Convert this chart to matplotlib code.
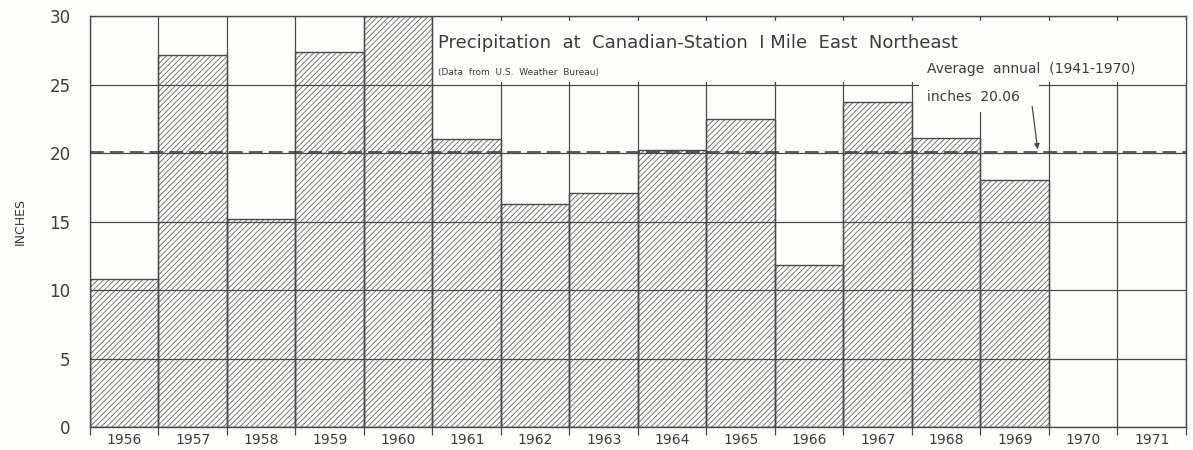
import matplotlib.pyplot as plt
from matplotlib.patches import Rectangle
from matplotlib.ticker import FixedLocator, NullFormatter

# Annual precipitation, inches (1970 and 1971 columns left empty)
years = ["1956", "1957", "1958", "1959", "1960", "1961", "1962", "1963",
         "1964", "1965", "1966", "1967", "1968", "1969", "1970", "1971"]
inches = [10.8, 27.15, 15.2, 27.4, 30.0, 21.0, 16.3, 17.1,
          20.2, 22.5, 11.8, 23.7, 21.1, 18.0]
average = 20.06
y_ticks = [0, 5, 10, 15, 20, 25, 30]

LINE = "#4a4a4a"
TEXT = "#3c3c3c"
BG = "#fdfdfb"

plt.rcParams["font.family"] = "DejaVu Sans"
plt.rcParams["hatch.linewidth"] = 0.65

fig = plt.figure(figsize=(11.93, 4.5), dpi=100, facecolor=BG)
ax = fig.add_axes([0.0754, 0.0511, 0.9187, 0.9133])
ax.set_facecolor(BG)

n = len(years)
ax.set_xlim(0, n)
ax.set_ylim(0, 30)

# hatched bars, one column per year (hatch is lighter than the outline)
bars = ax.bar(range(len(inches)), inches, width=1.0, align="edge",
              facecolor=BG, edgecolor="#6e6e6e", hatch="//////",
              linewidth=0, zorder=1)
ax.bar(range(len(inches)), inches, width=1.0, align="edge",
       facecolor="none", edgecolor=LINE, linewidth=1.0, zorder=1.1)

# grid above the bars
ax.set_axisbelow(False)
ax.xaxis.set_major_locator(FixedLocator(range(n + 1)))
ax.xaxis.set_major_formatter(NullFormatter())
ax.xaxis.set_minor_locator(FixedLocator([i + 0.5 for i in range(n)]))
ax.xaxis.set_minor_formatter(plt.FixedFormatter(years))
ax.set_yticks(y_ticks)
ax.grid(True, which="major", color=LINE, linewidth=0.9)

ax.tick_params(axis="x", which="major", direction="out", length=6,
               width=0.9, color=LINE)
ax.tick_params(axis="x", which="minor", length=0, pad=4,
               labelsize=10, labelcolor=TEXT)
ax.tick_params(axis="y", length=0, pad=14, labelsize=12, labelcolor=TEXT)
for s in ax.spines.values():
    s.set_color(LINE)
    s.set_linewidth(1.0)

ax.set_ylabel("INCHES", fontsize=9, color=TEXT, labelpad=16)

# average line
ax.axhline(average, color="#333333", linewidth=1.1, linestyle=(0, (9, 4)),
           zorder=3)

# blank title area and annotation area
ax.add_patch(Rectangle((5.03, 25.15), n - 5.03, 4.45, facecolor=BG,
                       edgecolor="none", zorder=3))
ax.add_patch(Rectangle((12.1, 23.0), 1.76, 6.0, facecolor=BG,
                       edgecolor="none", zorder=3))

ax.text(5.08, 28.0, "Precipitation  at  Canadian-Station  I Mile  East  Northeast",
        fontsize=13, color=TEXT, va="center", ha="left", zorder=4)
ax.text(5.08, 25.9, "(Data  from  U.S.  Weather  Bureau)",
        fontsize=6.5, color=TEXT, va="center", ha="left", zorder=4)

ax.text(12.22, 26.15, "Average  annual  (1941-1970)", fontsize=10,
        color=TEXT, va="center", ha="left", zorder=4)
ax.text(12.22, 24.1, "inches  20.06", fontsize=10, color=TEXT,
        va="center", ha="left", zorder=4)
ax.annotate("", xy=(13.84, average), xytext=(13.75, 23.6),
            arrowprops=dict(arrowstyle="-|>", color=LINE, lw=0.9,
                            mutation_scale=8), zorder=4)

fig.savefig("out.png", dpi=100, facecolor=BG)
